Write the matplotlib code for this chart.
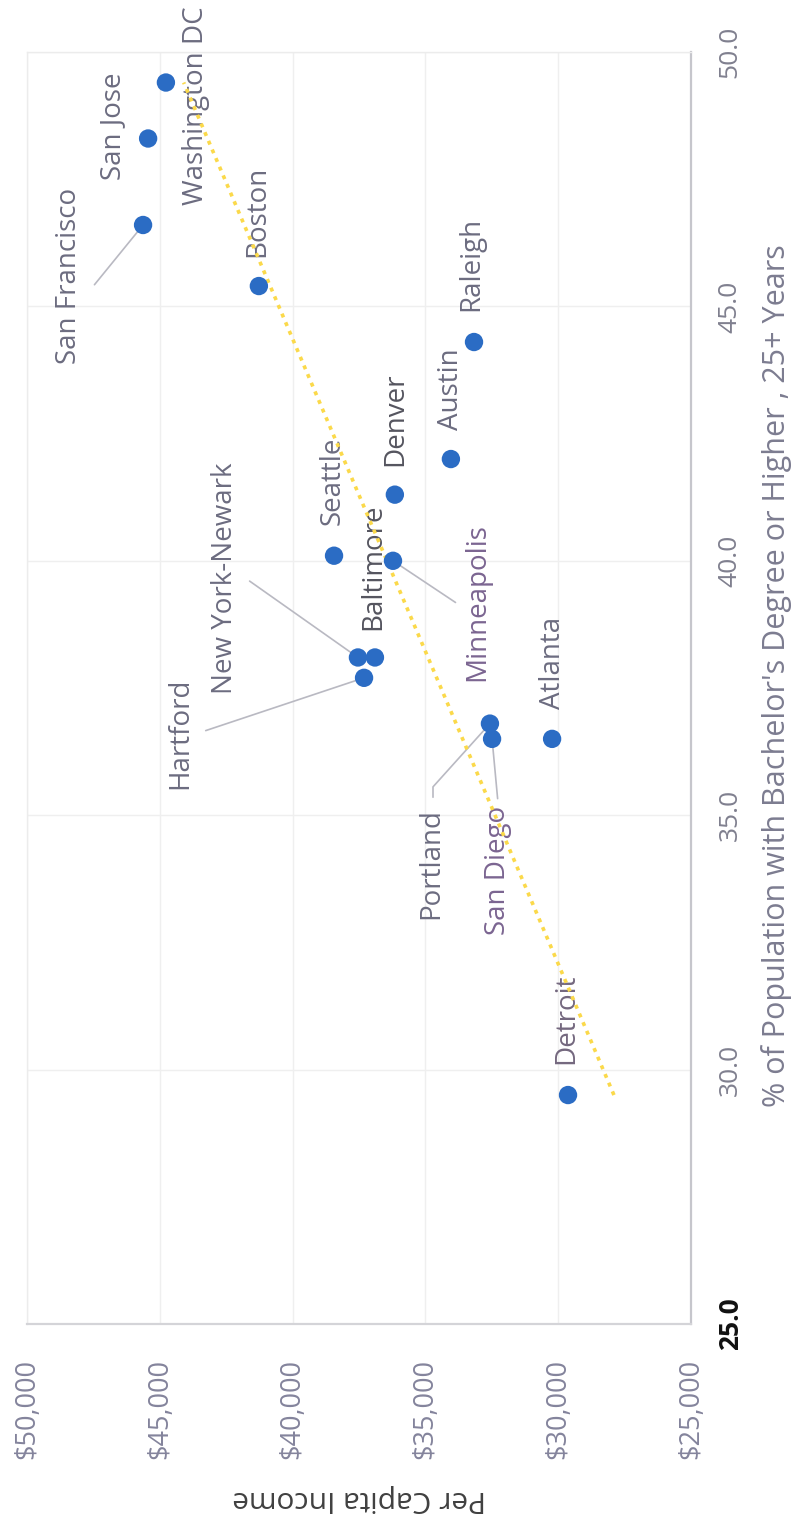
"""Per capita income vs. share of adults with a bachelor's degree, by metro.

The reference is a scanned Excel scatter that was rotated a quarter turn, so the
chart is drawn in that rotated frame: income runs along the bottom (high on the
left), the degree share runs up the right-hand side, and all text is turned.
"""
import matplotlib
matplotlib.use("Agg")
import matplotlib.pyplot as plt
import numpy as np

plt.rcParams["font.family"] = ["Open Sans", "DejaVu Sans"]

# ---- data ------------------------------------------------------------------
cities = [
    "Washington DC", "San Jose", "San Francisco", "Boston", "Raleigh",
    "Austin", "Denver", "Seattle", "Minneapolis", "New York-Newark",
    "Baltimore", "Hartford", "Portland", "San Diego", "Atlanta", "Detroit",
]
pct_bachelor = [
    49.4, 48.3, 46.6, 45.4, 44.3,
    42.0, 41.3, 40.1, 40.0, 38.1,
    38.1, 37.7, 36.8, 36.5, 36.5, 29.5,
]
per_capita_income = [
    44770, 45440, 45630, 41270, 33170,
    34040, 36150, 38440, 36220, 37540,
    36900, 37310, 32570, 32490, 30230, 29630,
]

income_ticks = [25000, 30000, 35000, 40000, 45000, 50000]
pct_ticks = [25.0, 30.0, 35.0, 40.0, 45.0, 50.0]

# ---- layout: label centre offsets from each point (points, rotated frame) ---
label_offset = {
    "Washington DC": (22, -17), "San Jose": (-25, 9), "San Francisco": (-53, -37),
    "Boston": (-1, 54), "Raleigh": (-2, 56), "Austin": (0, 50), "Denver": (0, 54),
    "Seattle": (-1, 54), "Minneapolis": (61, -30), "New York-Newark": (-96, 57),
    "Baltimore": (-1, 65), "Hartford": (-132, -40), "Portland": (-42, -101),
    "San Diego": (4, -95), "Atlanta": (1, 55), "Detroit": (-1, 55),
}
# leader lines: start offset from the point (points) and connection style
leaders = {
    "San Francisco": ((-35, -43), "arc3"),
    "New York-Newark": ((-78, 55), "arc3"),
    "Hartford": ((-114, -38), "arc3"),
    "Minneapolis": ((45, -30), "arc3"),
    "Portland": ((-41, -53), "angle,angleA=90,angleB=48,rad=0"),
    "San Diego": ((4, -43), "arc3"),
}
label_color = {"Minneapolis": "#7b6591", "San Diego": "#7b6591", "Detroit": "#74687f",
               "Denver": "#55555f", "Baltimore": "#55555f"}

W, H, DPI = 799, 1522, 100
fig = plt.figure(figsize=(W / DPI, H / DPI), dpi=DPI)
ax = fig.add_axes([27 / W, (H - 1324) / H, (691 - 27) / W, (1324 - 52) / H])

ax.set_xlim(50000, 25000)
ax.set_ylim(25, 50)

# trendline (least squares of income on degree share)
pct = np.array(pct_bachelor)
inc = np.array(per_capita_income)
slope, icpt = np.polyfit(pct, inc, 1)
tx = np.array([pct.min(), pct.max()])
ax.plot(slope * tx + icpt, tx, color="#fbd94a", lw=2.6,
        linestyle=(0, (1.1, 1.5)), zorder=4)

ax.scatter(inc, pct, s=175, color="#2b6cc4", edgecolor="none", zorder=5)

for name, x, y in zip(cities, inc, pct):
    dx, dy = label_offset[name]
    ax.annotate(name, (x, y), xytext=(dx, dy), textcoords="offset points",
                rotation=90, ha="center", va="center", fontsize=20,
                color=label_color.get(name, "#6c6c80"), zorder=3)
    if name in leaders:
        (lx, ly), style = leaders[name]
        ax.annotate("", (x, y), xytext=(lx, ly), textcoords="offset points",
                    arrowprops=dict(arrowstyle="-", color="#b9b9c2", lw=1.2,
                                    shrinkA=0, shrinkB=5, connectionstyle=style),
                    zorder=2)

# axes styling
ax.grid(True, color="#efefef", lw=1.0, zorder=0)
ax.set_axisbelow(True)
for side in ("top", "left"):
    ax.spines[side].set_color("#ececec")
    ax.spines[side].set_linewidth(1.0)
ax.spines["right"].set_color("#c6c6cc")
ax.spines["right"].set_linewidth(1.6)
ax.spines["bottom"].set_color("#d4d4d8")
ax.spines["bottom"].set_linewidth(1.6)

ax.set_xticks(income_ticks, [f"${v:,.0f}" for v in income_ticks],
              rotation=90, fontsize=19.5, color="#84849c")
ax.yaxis.tick_right()
ax.set_yticks(pct_ticks, [f"{v:.1f}" for v in pct_ticks],
              rotation=90, va="center", fontsize=19, color="#80808f")
ax.get_yticklabels()[0].set_color("#111111")
ax.get_yticklabels()[0].set_fontweight("bold")
ax.tick_params(axis="x", length=0, pad=25)
ax.tick_params(axis="y", length=0, pad=19)

ax.set_xlabel("Per Capita Income", rotation=180, fontsize=21.5, color="#404040",
              va="center")
ax.xaxis.set_label_coords(0.5, (1324 - 1499) / 1272)
ax.yaxis.set_label_position("right")
ax.set_ylabel("% of Population with Bachelor's Degree or Higher , 25+ Years",
              rotation=90, fontsize=22, color="#7c7c90", va="center", ha="center",
              rotation_mode="default")
ax.yaxis.set_label_coords((777 - 27) / 664, (1324 - 676) / 1272)

fig.savefig("out.png", dpi=DPI)
